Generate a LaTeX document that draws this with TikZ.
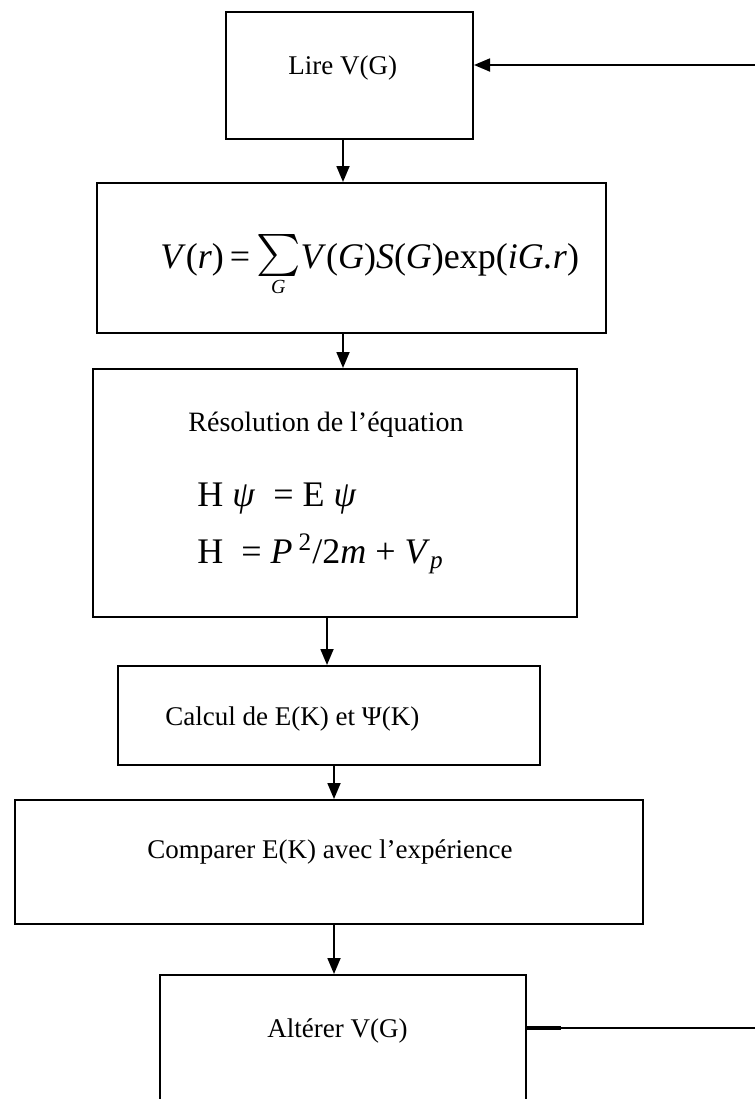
\documentclass[tikz,border=0pt]{standalone}
\usepackage{fontspec}
\usepackage{graphicx}
\setmainfont{Liberation Serif}
\usetikzlibrary{arrows.meta}

\begin{document}
\begin{tikzpicture}[
    x=0.5pt, y=-0.5pt,
    box/.style={rectangle, draw, line width=1pt, inner sep=0pt},
    txt/.style={inner sep=0pt, anchor=base west, font=\fontsize{13.5}{16}\selectfont},
    big/.style={inner sep=0pt, anchor=base west, font=\fontsize{18}{22}\selectfont},
    arr/.style={-{Triangle[length=8pt, width=6.5pt]}, line width=0.9pt},
]
    \useasboundingbox (0,0) rectangle (755,1099);
    \clip (0,0) rectangle (755,1099);

    % boxes
    \node[box, minimum width=123.5pt, minimum height=63.5pt] (lire)  at (349.5,75.5) {};
    \node[box, minimum width=254.5pt, minimum height=75pt]   (form)  at (351.5,258)  {};
    \node[box, minimum width=242pt,   minimum height=124pt]  (res)   at (335,493)    {};
    \node[box, minimum width=211pt,   minimum height=49.5pt] (calc)  at (329,715.5)  {};
    \node[box, minimum width=314pt,   minimum height=62pt]   (comp)  at (329,862)    {};
    \node[box, minimum width=183pt,   minimum height=72.5pt] (alter) at (343,1047.5) {};

    % texts
    \node[big] (formT)  at (160,268)  {\textit{V}(\textit{r})\,=\,$\displaystyle\mathop{\raisebox{-3pt}{\scalebox{2.1}{$\sum$}}}\limits_{\mbox{\fontsize{10}{12}\selectfont\textit{G}}}$\textit{V}(\textit{G})\textit{S}(\textit{G})exp(\textit{iG.r})};
    \node[txt] (lireT)  at (288,74)   {Lire V(G)};
    \node[txt, font=\fontsize{14}{17}\selectfont] (resT) at (188,431) {Résolution de l’équation};
    \node[big] (hpsi)   at (197,506)  {H \textit{ψ} \ = E \textit{ψ}};
    \node[big] (hdef)   at (197,563)  {H \ = \textit{P}\,\textsuperscript{2}/2\textit{m} + \textit{V}\textsubscript{\textit{p}}};
    \node[txt] (calcT)  at (165,725)  {Calcul de E(K) et Ψ(K)};
    \node[txt] (compT)  at (147,858)  {Comparer E(K) avec l’expérience};
    \node[txt] (alterT) at (267,1037) {Altérer V(G)};

    % connectors
    \draw[arr] ([xshift=-3.25pt]lire.south) -- ([xshift=-3.25pt]lire.south |- form.north);
    \draw[arr] ([xshift=-4.25pt]form.south) -- ([xshift=-4.25pt]form.south |- res.north);
    \draw[arr] ([xshift=-4pt]res.south)     -- ([xshift=-4pt]res.south |- calc.north);
    \draw[arr] ([xshift=2.5pt]calc.south)   -- ([xshift=2.5pt]calc.south |- comp.north);
    \draw[arr] ([xshift=2.5pt]comp.south)   -- ([xshift=2.5pt]comp.south |- alter.north);

    % feedback loop
    \draw[line width=2.2pt] ([yshift=9.75pt]alter.east) -- ++(34,0);
    \draw[arr] ([yshift=9.75pt]alter.east) -- ++(260,0) |- ([yshift=5.25pt]lire.east);
\end{tikzpicture}
\end{document}
